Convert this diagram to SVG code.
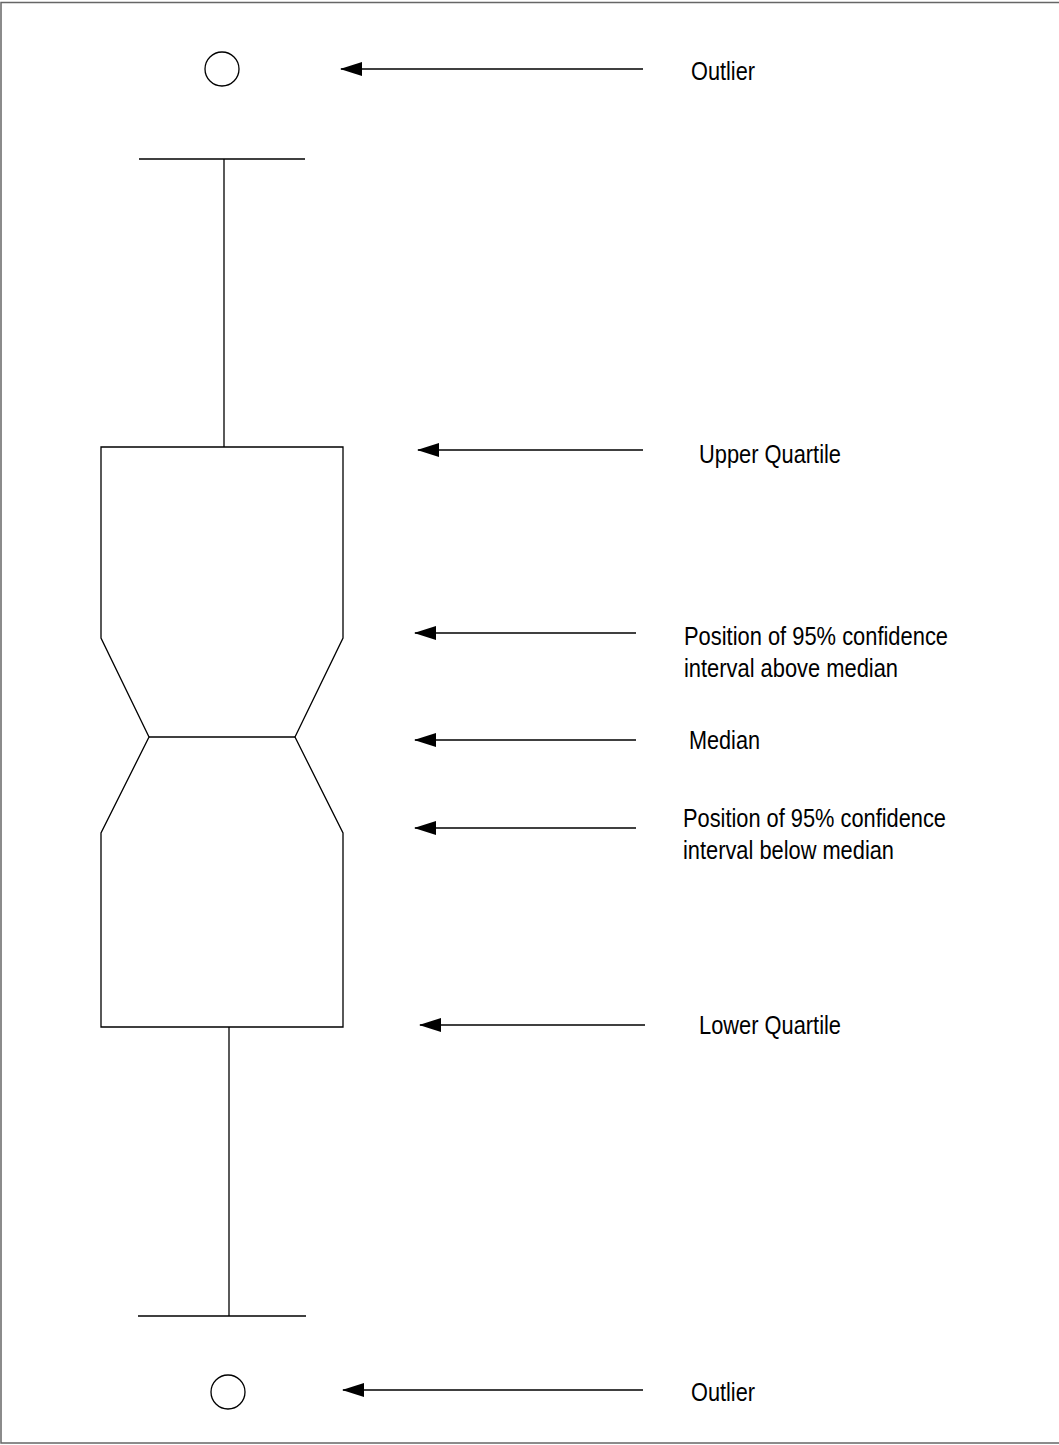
<svg xmlns="http://www.w3.org/2000/svg" width="1059" height="1445" viewBox="0 0 1059 1445">
<style>
.ln{stroke:#000;stroke-width:1.3;fill:none}
.ar{stroke:#000;stroke-width:1.3;fill:none}
.lbl{font-family:"Liberation Sans",Arial,sans-serif;font-size:25px;fill:#000}
</style>
<defs>
<marker id="ah" viewBox="0 0 22 14" refX="21" refY="7" markerWidth="22" markerHeight="14" markerUnits="userSpaceOnUse" orient="auto">
<path d="M22,7 L0,0 L0,14 Z" fill="#000"/>
</marker>
</defs>
<rect x="0" y="0" width="1059" height="1445" fill="#fff"/>
<rect x="1" y="2.5" width="1062" height="1440.5" fill="none" stroke="#666" stroke-width="1.5"/>
<g id="box">
<line class="ln" x1="139" y1="159" x2="305" y2="159"/>
<line class="ln" x1="224" y1="159" x2="224" y2="447"/>
<path class="ln" d="M101,447 L343,447 L343,638 L295,737 L343,833 L343,1027 L101,1027 L101,833 L149,737 L101,638 Z"/>
<line class="ln" x1="149" y1="737" x2="295" y2="737"/>
<line class="ln" x1="229" y1="1027" x2="229" y2="1316"/>
<line class="ln" x1="138" y1="1316" x2="306" y2="1316"/>
</g>
<g id="outlier-top"><circle class="ln" cx="222" cy="69" r="17"/></g>
<g id="outlier-bottom"><circle class="ln" cx="228" cy="1392" r="17"/></g>
<g id="connectors">
<line class="ar" x1="643" y1="69" x2="341" y2="69" marker-end="url(#ah)"/>
<line class="ar" x1="643" y1="450" x2="418" y2="450" marker-end="url(#ah)"/>
<line class="ar" x1="636" y1="633" x2="415" y2="633" marker-end="url(#ah)"/>
<line class="ar" x1="636" y1="740" x2="415" y2="740" marker-end="url(#ah)"/>
<line class="ar" x1="636" y1="828" x2="415" y2="828" marker-end="url(#ah)"/>
<line class="ar" x1="645" y1="1025" x2="420" y2="1025" marker-end="url(#ah)"/>
<line class="ar" x1="643" y1="1390" x2="343" y2="1390" marker-end="url(#ah)"/>
</g>
<g id="labels">
<text class="lbl" x="691" y="80" textLength="64" lengthAdjust="spacingAndGlyphs">Outlier</text>
<text class="lbl" x="699" y="463" textLength="142" lengthAdjust="spacingAndGlyphs">Upper Quartile</text>
<text class="lbl" x="684" y="645" textLength="264" lengthAdjust="spacingAndGlyphs">Position of 95% confidence</text>
<text class="lbl" x="684" y="677" textLength="214" lengthAdjust="spacingAndGlyphs">interval above median</text>
<text class="lbl" x="689" y="749" textLength="71" lengthAdjust="spacingAndGlyphs">Median</text>
<text class="lbl" x="683" y="827" textLength="263" lengthAdjust="spacingAndGlyphs">Position of 95% confidence</text>
<text class="lbl" x="683" y="859" textLength="211" lengthAdjust="spacingAndGlyphs">interval below median</text>
<text class="lbl" x="699" y="1034" textLength="142" lengthAdjust="spacingAndGlyphs">Lower Quartile</text>
<text class="lbl" x="691" y="1401" textLength="64" lengthAdjust="spacingAndGlyphs">Outlier</text>
</g>
</svg>
